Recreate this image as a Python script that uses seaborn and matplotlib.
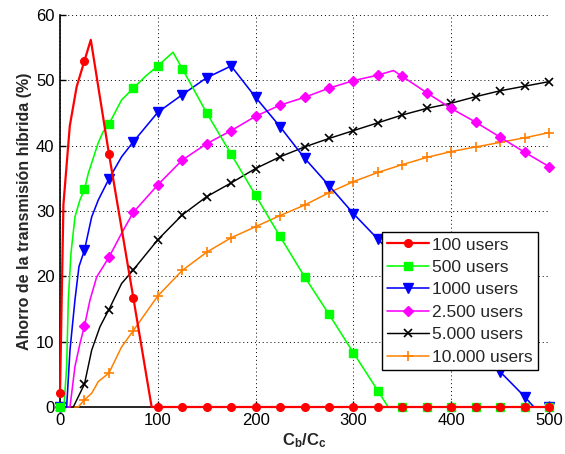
import matplotlib
matplotlib.use("Agg")
import matplotlib.pyplot as plt
import pandas as pd
import seaborn as sns
from matplotlib.lines import Line2D

sns.set_theme(style="white")
plt.rcParams['font.family'] = ['Liberation Sans', 'DejaVu Sans']
plt.rcParams['mathtext.fontset'] = 'custom'
plt.rcParams['mathtext.bf'] = 'Liberation Sans:bold'
plt.rcParams['mathtext.rm'] = 'Liberation Sans'

labels = ["100 users", "500 users", "1000 users", "2.500 users", "5.000 users", "10.000 users"]
colors = ["#ff0000", "#00ff00", "#0000ff", "#ff00ff", "#000000", "#ff8000"]
markers = ["o", "s", "v", "D", "x", "+"]

step = [0, 25, 50, 75, 100, 125, 150, 175, 200, 225, 250, 275, 300, 325, 350, 375, 400, 425, 450, 475, 500]

# 100 users
x_100 = [0, 3.5, 10, 17, 25, 31.5, 50, 75, 93.7] + step[4:]
y_100 = [2.1, 31.0, 43.0, 49.0, 53.0, 56.2, 38.8, 16.7, 0.0] + [0.0] * 17

# 500 users
x_500 = [0, 4, 6.8, 8.5, 11.2, 15.3, 20.4, 25, 29, 39, 44, 50, 63, 75, 88, 100, 115.5,
         125, 150, 175, 200, 225, 250, 275, 300, 325, 335.5, 350, 375, 400, 425, 450, 475, 500]
y_500 = [0, 0, 6.2, 16.4, 23.5, 29.1, 31.7, 33.3, 35.8, 40.4, 42.1, 43.3, 47.0, 48.8, 50.7, 52.2, 54.3,
         51.8, 45.0, 38.7, 32.4, 26.1, 19.95, 14.2, 8.3, 2.5, 0, 0, 0, 0, 0, 0, 0, 0]

# 1000 users
x_1000 = [0, 6.8, 10.2, 15.3, 19.4, 25, 32.4, 39.2, 50, 63, 75, 100, 125, 150, 175, 200, 225,
          250, 275, 300, 325, 350, 375, 400, 425, 450, 475, 484.5, 500]
y_1000 = [0, 0, 8.7, 16.4, 21.5, 24.0, 29.1, 31.7, 34.9, 38.3, 40.6, 45.1, 47.8, 50.4, 52.2, 47.4, 42.9,
          38.1, 33.9, 29.6, 25.7, 21.8, 17.6, 13.5, 9.5, 5.4, 1.6, 0, 0]

# 2.500 users
x_2500 = [0, 10.2, 15.3, 20.4, 25, 30.7, 37.5, 50, 63, 75, 100, 125, 150, 175, 200, 225, 250,
          275, 300, 325, 341, 350, 375, 400, 425, 450, 475, 500]
y_2500 = [0, 0, 6.2, 9.7, 12.4, 16.4, 19.9, 22.9, 26.6, 29.8, 34.0, 37.8, 40.3, 42.3, 44.5, 46.2, 47.4,
          48.8, 49.95, 50.8, 51.5, 50.6, 48.1, 45.7, 43.6, 41.3, 39.0, 36.8]

# 5.000 users
x_5000 = [0, 13.6, 25, 32.4, 40.9, 50, 63, 75] + step[4:]
y_5000 = [0, 0, 3.5, 8.7, 12.3, 14.9, 18.9, 21.0, 25.6, 29.4, 32.2, 34.3, 36.5, 38.3, 39.8, 41.1,
          42.3, 43.5, 44.7, 45.7, 46.5, 47.5, 48.4, 49.1, 49.8]

# 10.000 users
x_10000 = [0, 18.7, 25, 32.4, 39.2, 50, 63, 75] + step[4:]
y_10000 = [0, 0, 1.1, 2.1, 3.9, 5.2, 9.2, 11.7, 17.0, 20.9, 23.7, 25.9, 27.6, 29.3, 30.9, 32.8,
           34.5, 35.9, 37.1, 38.2, 39.1, 39.8, 40.5, 41.2, 42.0]

series = [(x_100, y_100), (x_500, y_500), (x_1000, y_1000),
          (x_2500, y_2500), (x_5000, y_5000), (x_10000, y_10000)]
widths = [1.6, 1.15, 1.15, 1.15, 1.05, 1.1]
sizes = [5.5, 6.0, 6.5, 5.0, 6.0, 7.5]

fig = plt.figure(figsize=(5.65, 4.54), dpi=100)
ax = fig.add_axes([60 / 565, 47 / 454, 489 / 565, 392 / 454])

styles = []
for i in range(len(series)):
    filled = markers[i] not in ("x", "+")
    styles.append(dict(color=colors[i], lw=widths[i], marker=markers[i], ms=sizes[i],
                       mfc=colors[i] if filled else "none", mec=colors[i],
                       mew=1.0 if filled else 1.2))

# draw the largest population first so the 100-user curve sits on top
for i in reversed(range(len(series))):
    xs, ys = series[i]
    df = pd.DataFrame({"x": xs, "y": ys})
    every = [k for k, v in enumerate(xs) if v in step]
    st = styles[i]
    sns.lineplot(data=df, x="x", y="y", ax=ax, estimator=None, sort=False,
                 color=st["color"], linewidth=st["lw"], marker=st["marker"],
                 markersize=st["ms"], markerfacecolor=st["mfc"],
                 markeredgecolor=st["mec"], markeredgewidth=st["mew"],
                 markevery=every, clip_on=False, zorder=3 + (len(series) - i))

ax.set_xlim(0, 500)
ax.set_ylim(0, 60)
ax.set_xticks(range(0, 501, 100))
ax.set_yticks(range(0, 61, 10))
ax.grid(True, color="black", linestyle=(0, (1, 3)), linewidth=0.7)
ax.set_axisbelow(True)
for s in ("top", "right"):
    ax.spines[s].set_visible(False)
for s in ("left", "bottom"):
    ax.spines[s].set_color("black")
    ax.spines[s].set_linewidth(1.2)
ax.tick_params(direction="in", length=4, width=1, colors="black", labelsize=12,
               left=True, bottom=True, pad=4)
ax.set_xlabel(r"$\mathbf{C_b/C_c}$", fontsize=12, labelpad=3)
ax.set_ylabel("Ahorro de la transmisión híbrida (%)", fontsize=11.5, fontweight="bold", labelpad=3)

handles = [Line2D([], [], color=st["color"], lw=st["lw"], marker=st["marker"], ms=st["ms"],
                  mfc=st["mfc"], mec=st["mec"], mew=st["mew"]) for st in styles]
leg = ax.legend(handles, labels, loc="upper left", bbox_to_anchor=(0.658, 0.446),
                borderaxespad=0, fontsize=12.5, frameon=True, fancybox=False,
                framealpha=1, edgecolor="black", handlelength=2.4, handletextpad=0.2,
                labelspacing=0.42, borderpad=0.3)
leg.get_frame().set_linewidth(1.0)
leg.set_zorder(20)

fig.savefig("out.png", dpi=100)
